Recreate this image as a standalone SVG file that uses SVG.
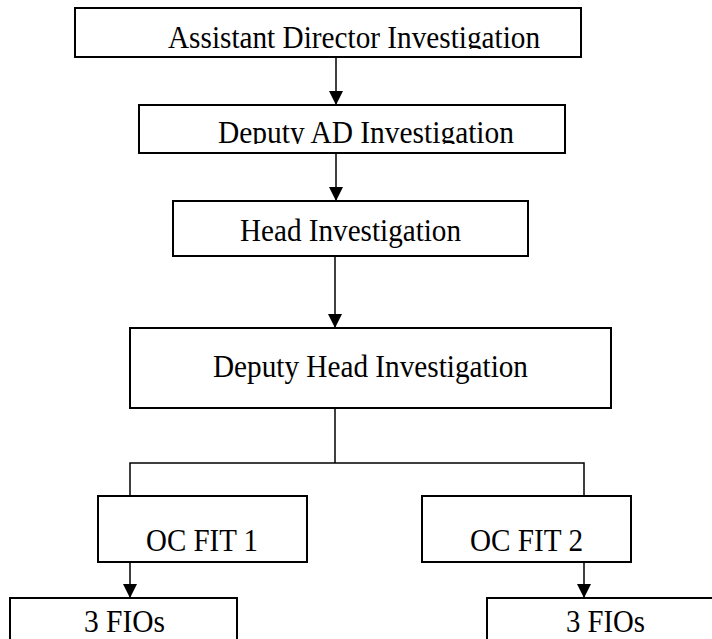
<svg xmlns="http://www.w3.org/2000/svg" width="712" height="639" viewBox="0 0 712 639">
  <style>
    .box { fill: #ffffff; stroke: #000000; stroke-width: 2; }
    .label { font-family: "Liberation Serif", "Times New Roman", serif; font-size: 31px; fill: #000000; }
    .wire { fill: none; stroke: #000000; stroke-width: 1.5; }
  </style>
  <defs>
    <marker id="head" viewBox="0 0 14 14" refX="14" refY="7" markerWidth="14" markerHeight="14" markerUnits="userSpaceOnUse" orient="auto">
      <path d="M0,0 L14,7 L0,14 Z" fill="#000000"/>
    </marker>
    <!-- the two top labels sit low in their boxes and lose their descenders -->
    <clipPath id="clip-ad"><rect x="76" y="9" width="504" height="40"/></clipPath>
    <clipPath id="clip-dad"><rect x="140" y="106" width="424" height="38"/></clipPath>
  </defs>

  <g id="connectors">
    <line class="wire" x1="336" y1="57" x2="336" y2="105" marker-end="url(#head)"/>
    <line class="wire" x1="336" y1="153" x2="336" y2="201" marker-end="url(#head)"/>
    <line class="wire" x1="335" y1="256" x2="335" y2="328" marker-end="url(#head)"/>
    <polyline class="wire" points="335,408 335,463"/>
    <polyline class="wire" points="130,496 130,463 584,463 584,496"/>
    <line class="wire" x1="130" y1="562" x2="130" y2="598" marker-end="url(#head)"/>
    <line class="wire" x1="584" y1="562" x2="584" y2="598" marker-end="url(#head)"/>
  </g>

  <g id="assistant-director">
    <rect class="box" x="75" y="8" width="506" height="49"/>
    <text class="label" x="168" y="48" textLength="372" lengthAdjust="spacingAndGlyphs" clip-path="url(#clip-ad)">Assistant Director Investigation</text>
  </g>

  <g id="deputy-ad">
    <rect class="box" x="139" y="105" width="426" height="48"/>
    <text class="label" x="218" y="143" textLength="296" lengthAdjust="spacingAndGlyphs" clip-path="url(#clip-dad)">Deputy AD Investigation</text>
  </g>

  <g id="head">
    <rect class="box" x="173" y="201" width="355" height="55"/>
    <text class="label" x="240" y="241" textLength="221" lengthAdjust="spacingAndGlyphs">Head Investigation</text>
  </g>

  <g id="deputy-head">
    <rect class="box" x="130" y="328" width="481" height="80"/>
    <text class="label" x="213" y="377" textLength="315" lengthAdjust="spacingAndGlyphs">Deputy Head Investigation</text>
  </g>

  <g id="oc-fit-1">
    <rect class="box" x="98" y="496" width="209" height="66"/>
    <text class="label" x="146" y="551" textLength="112" lengthAdjust="spacingAndGlyphs">OC FIT 1</text>
  </g>

  <g id="oc-fit-2">
    <rect class="box" x="422" y="496" width="209" height="66"/>
    <text class="label" x="470" y="551" textLength="113" lengthAdjust="spacingAndGlyphs">OC FIT 2</text>
  </g>

  <g id="fios-1">
    <rect class="box" x="10" y="598" width="227" height="60"/>
    <text class="label" x="84" y="632" textLength="81" lengthAdjust="spacingAndGlyphs">3 FIOs</text>
  </g>

  <g id="fios-2">
    <rect class="box" x="487" y="598" width="240" height="60"/>
    <text class="label" x="566" y="632" textLength="79" lengthAdjust="spacingAndGlyphs">3 FIOs</text>
  </g>
</svg>
